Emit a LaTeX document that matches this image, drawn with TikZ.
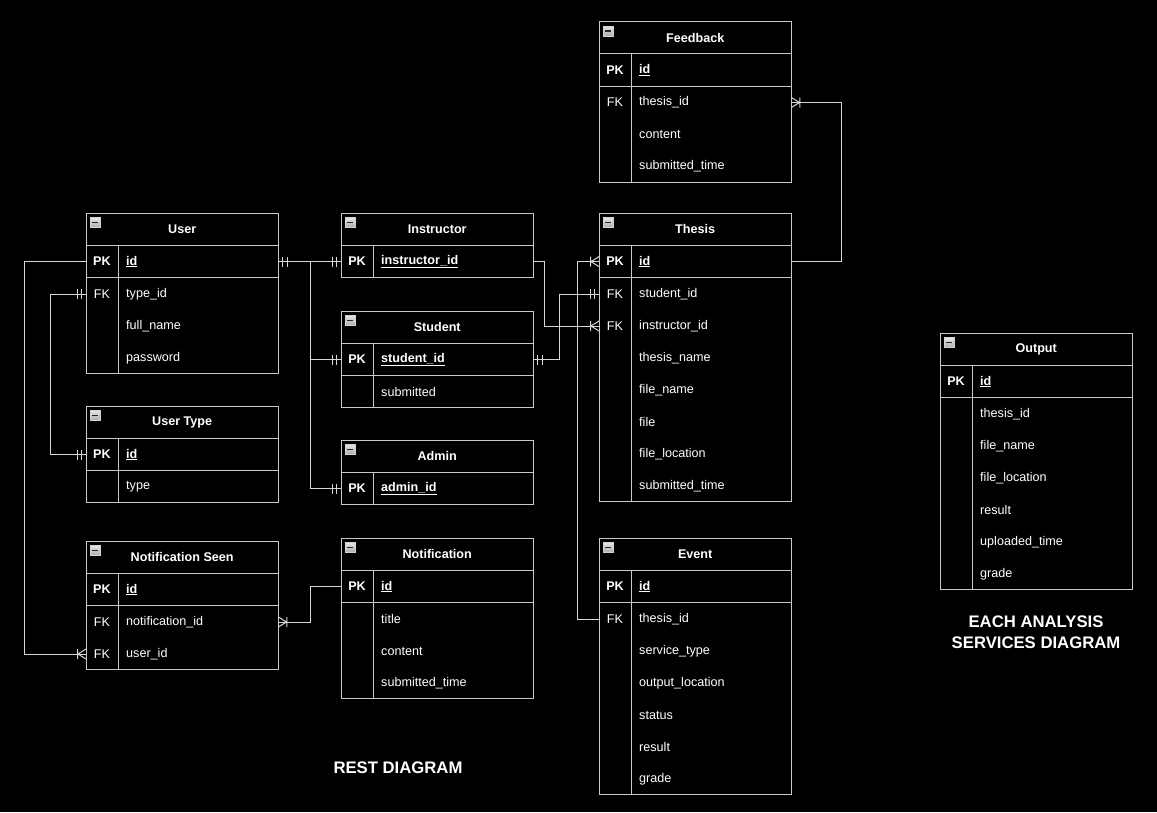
\documentclass[tikz,border=0pt]{standalone}
\usepackage{fontspec}
\setmainfont{Liberation Sans}
\usepackage{xcolor}

\definecolor{framec}{RGB}{200,200,200}
\definecolor{linkc}{RGB}{215,215,215}
\newcommand{\erfont}{\fontsize{12.6}{15}\selectfont}

% crow's foot ends
\pgfdeclarearrow{
  name = erone,
  setup code = {
    \pgfarrowssettipend{0pt}
    \pgfarrowssetlineend{0pt}
    \pgfarrowssetbackend{-10pt}
    \pgfarrowssetvisualbackend{-10pt}
    \pgfarrowshullpoint{0pt}{5pt}
    \pgfarrowshullpoint{-10pt}{5pt}
    \pgfarrowshullpoint{-10pt}{-5pt}
    \pgfarrowshullpoint{0pt}{-5pt}
  },
  drawing code = {
    \pgfpathmoveto{\pgfqpoint{-4.5pt}{5pt}}
    \pgfpathlineto{\pgfqpoint{-4.5pt}{-5pt}}
    \pgfpathmoveto{\pgfqpoint{-9pt}{5pt}}
    \pgfpathlineto{\pgfqpoint{-9pt}{-5pt}}
    \pgfusepathqstroke
  }
}
\pgfdeclarearrow{
  name = ermany,
  setup code = {
    \pgfarrowssettipend{0pt}
    \pgfarrowssetlineend{0pt}
    \pgfarrowssetbackend{-10pt}
    \pgfarrowssetvisualbackend{-10pt}
    \pgfarrowshullpoint{0pt}{5pt}
    \pgfarrowshullpoint{-10pt}{5pt}
    \pgfarrowshullpoint{-10pt}{-5pt}
    \pgfarrowshullpoint{0pt}{-5pt}
  },
  drawing code = {
    \pgfpathmoveto{\pgfqpoint{0pt}{5pt}}
    \pgfpathlineto{\pgfqpoint{-8pt}{0pt}}
    \pgfpathlineto{\pgfqpoint{0pt}{-5pt}}
    \pgfpathmoveto{\pgfqpoint{-8.5pt}{5pt}}
    \pgfpathlineto{\pgfqpoint{-8.5pt}{-5pt}}
    \pgfusepathqstroke
  }
}

\tikzset{
  tabhead/.style = {anchor=north west, minimum width=192pt, minimum height=32pt,
    inner sep=0pt, text=white, font=\erfont\bfseries},
  tabrow/.style = {anchor=north west, minimum height=32pt, text width=112pt,
    inner xsep=40pt, inner ysep=0pt, align=left, text=white, font=\erfont},
  tabkey/.style = {inner sep=0pt, text=white, font=\erfont},
  tabicon/.style = {minimum size=10pt, inner sep=0pt, draw=gray!35,
    top color=gray!20, bottom color=gray!65,
    path picture={\draw[black!85, line width=1.6pt]
      ([xshift=2.2pt]path picture bounding box.west) --
      ([xshift=-2.2pt]path picture bounding box.east);}},
  frame/.style = {draw=framec, line width=1pt},
  link/.style = {draw=linkc, line width=1pt},
  caption/.style = {text=white, align=center,
    font=\fontsize{16.7}{21}\selectfont\bfseries}
}

% #1 name, #2 top left, #3 title, #4 primary key, #5 number of rows, #6 key/field list
\newcommand{\ertable}[6]{%
  \node[tabhead] (#1) at #2 {#3};
  \node[tabicon] (#1-icon) at ([xshift=9pt,yshift=-9.5pt]#1.north west) {};
  \node[tabrow, font=\erfont\bfseries] (#1-pk) at (#1.south west) {\underline{#4}};
  \node[tabkey, font=\erfont\bfseries] (#1-pkkey) at ([xshift=16pt]#1-pk.west) {PK};
  \ifnum#5>0
  \foreach \k/\f [count=\i] in {#6} {
    \node[tabrow] (#1-\i) at ([yshift={-32pt*(\i-1)}]#1-pk.south west) {\f};
    \node[tabkey] (#1-\i-key) at ([xshift=16pt]#1-\i.west) {\k};
  }
  \fi
  \draw[frame] (#1.north west) rectangle ([yshift={-32pt*#5}]#1-pk.south east);
  \draw[frame] (#1.south west) -- (#1.south east);
  \draw[frame] (#1-pk.south west) -- (#1-pk.south east);
  \draw[frame] ([xshift=32pt]#1.south west) -- ([xshift=32pt,yshift={-32pt*#5}]#1-pk.south west);
}

\begin{document}
\begin{tikzpicture}[x=1pt, y=-1pt]
\useasboundingbox[fill=black] (0,0) rectangle (1157,812);

% rest diagram tables
\ertable{user}{(86,213)}{User}{id}{3}{FK/type\_id, /full\_name, /password}
\ertable{usertype}{(86,406)}{User Type}{id}{1}{/type}
\ertable{seen}{(86,541)}{Notification Seen}{id}{2}{FK/notification\_id, FK/user\_id}
\ertable{instructor}{(341,213)}{Instructor}{instructor\_id}{0}{}
\ertable{student}{(341,311)}{Student}{student\_id}{1}{/submitted}
\ertable{admin}{(341,440)}{Admin}{admin\_id}{0}{}
\ertable{notif}{(341,538)}{Notification}{id}{3}{/title, /content, /submitted\_time}
\ertable{feedback}{(599,21.5)}{Feedback}{id}{3}{FK/thesis\_id, /content, /submitted\_time}
\ertable{thesis}{(599,213)}{Thesis}{id}{7}{FK/student\_id, FK/instructor\_id, /thesis\_name,
  /file\_name, /file, /file\_location, /submitted\_time}
\ertable{event}{(599,538)}{Event}{id}{6}{FK/thesis\_id, /service\_type, /output\_location,
  /status, /result, /grade}

% analysis services table
\ertable{output}{(940,333)}{Output}{id}{6}{/thesis\_id, /file\_name, /file\_location,
  /result, /uploaded\_time, /grade}

% relations
\draw[link, erone-erone] (user-pk.east) -- (instructor-pk.west);
\draw[link, erone-erone] (user-pk.east) -- ++(32,0) |- (student-pk.west);
\draw[link, erone-erone] (user-pk.east) -- ++(32,0) |- (admin-pk.west);
\draw[link, -ermany] (user-pk.west) -- ++(-62,0) |- (seen-2.west);
\draw[link, erone-erone] (usertype-pk.west) -- ++(-35.5,0) |- (user-1.west);
\draw[link, ermany-] (seen-1.east) -- ++(32,0) |- (notif-pk.west);
\draw[link, -ermany] (instructor-pk.east) -- ++(11,0) |- (thesis-2.west);
\draw[link, erone-erone] (student-pk.east) -- ++(26,0) |- (thesis-1.west);
\draw[link, -ermany] (event-1.west) -- ++(-21.5,0) |- (thesis-pk.west);
\draw[link, -ermany] (thesis-pk.east) -- ++(50,0) |- (feedback-1.east);

\node[caption] (rest) at (398,768) {REST DIAGRAM};
\node[caption] (each) at (1036,632.5) {EACH ANALYSIS\\SERVICES DIAGRAM};
\end{tikzpicture}
\end{document}
